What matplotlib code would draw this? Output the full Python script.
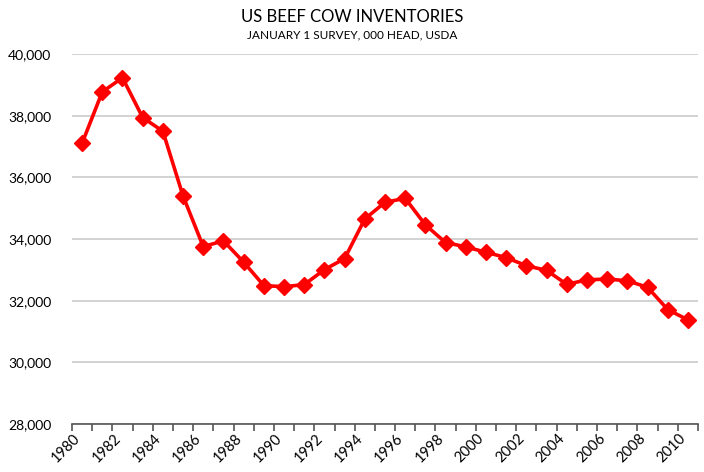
import matplotlib.pyplot as plt
import matplotlib.transforms as mtransforms
import numpy as np

years = list(range(1980, 2011))
cows = [37107, 38773, 39230, 37940, 37494, 35393, 33753, 33940, 33250, 32488,
        32454, 32520, 33007, 33365, 34650, 35190, 35319, 34458, 33885, 33745,
        33569, 33398, 33134, 32983, 32531, 32674, 32703, 32644, 32435, 31712,
        31376]
yticks = [28000, 30000, 32000, 34000, 36000, 38000, 40000]

plt.rcParams['font.family'] = ['Lato', 'DejaVu Sans']

fig = plt.figure(figsize=(7.04, 4.72), dpi=100)
ax = fig.add_axes([72 / 704, 48 / 472, 626 / 704, 370 / 472])

ax.plot(years, cows, color='#ff0000', lw=2.6, marker='D', ms=8,
        markeredgecolor='#ff0000', zorder=3)

ax.set_ylim(28000, 40000)
ax.set_yticks(yticks)
ax.set_yticklabels([f"{v:,}" for v in yticks], fontsize=10)
ax.yaxis.grid(True, color='#cfcfcf', lw=1.3)
ax.set_axisbelow(True)
ax.tick_params(axis='y', length=0, pad=15)

ax.set_xlim(years[0] - 0.5, years[-1] + 0.5)
ax.set_xticks(np.arange(years[0] - 0.5, years[-1] + 1, 1))
ax.set_xticklabels([])
ax.tick_params(axis='x', direction='out', length=5, color='#555555', width=1.2)
ax.set_xticks(years[::2], minor=True)
ax.set_xticklabels([str(y) for y in years[::2]], minor=True, rotation=45,
                   ha='right', va='center', rotation_mode='anchor', fontsize=10.5)
ax.tick_params(axis='x', which='minor', length=0, pad=9)
# shift the year labels a little left, like the original
shift = mtransforms.ScaledTranslation(-4 / 100, 0, fig.dpi_scale_trans)
for lbl in ax.get_xticklabels(minor=True):
    lbl.set_transform(lbl.get_transform() + shift)

for s in ['left', 'right', 'top']:
    ax.spines[s].set_visible(False)
ax.spines['bottom'].set_color('#555555')
ax.spines['bottom'].set_linewidth(1.2)

fig.text(0.5, 1 - 17 / 472, "US BEEF COW INVENTORIES", ha='center', va='center', fontsize=12)
fig.text(0.5, 1 - 35 / 472, "JANUARY 1 SURVEY, 000 HEAD, USDA", ha='center', va='center', fontsize=8.5)

fig.savefig('out.png', dpi=100)
